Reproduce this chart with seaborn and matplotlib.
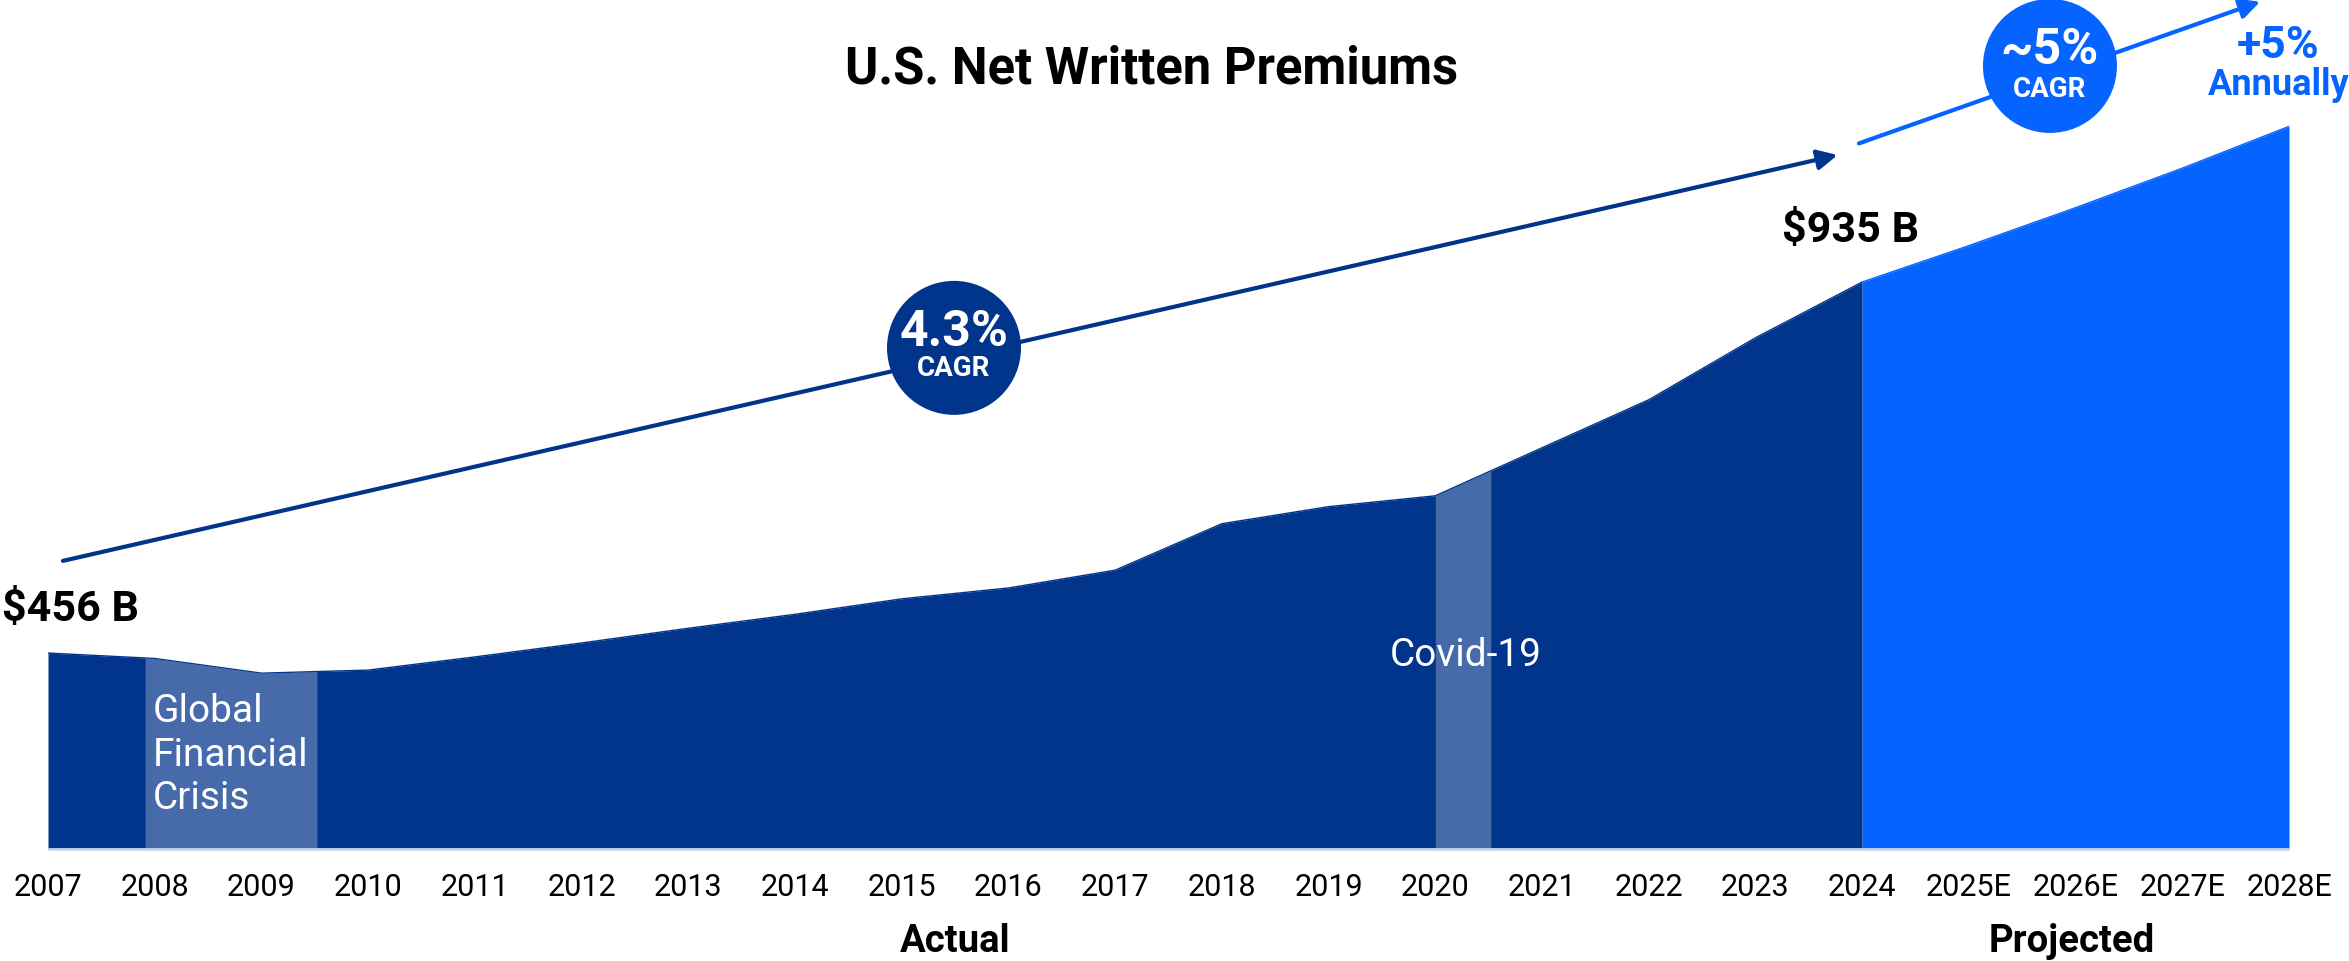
import numpy as np
import pandas as pd
import matplotlib
matplotlib.use("Agg")
import matplotlib.pyplot as plt
import seaborn as sns

# ---- data -------------------------------------------------------------
years = ["2007", "2008", "2009", "2010", "2011", "2012", "2013", "2014",
         "2015", "2016", "2017", "2018", "2019", "2020", "2021", "2022",
         "2023", "2024", "2025E", "2026E", "2027E", "2028E"]
premiums_bn = [456, 449, 430, 434, 451, 469, 488, 506, 526, 540, 563,
               623, 645, 659, 721, 783, 863, 935, 982, 1031, 1082, 1136]
last_actual = "2024"
crisis_span = (0.91, 2.52)      # Global Financial Crisis shading (index units)
covid_span = (13.0, 13.52)      # Covid-19 shading (index units)
cagr_actual = "4.3%"
cagr_projected = "~5%"

NAVY = "#00358B"
SHADE = "#476BAA"
BRIGHT = "#0563FF"
FONT = ["Roboto", "DejaVu Sans"]

df = pd.DataFrame({"year": years, "value": premiums_bn})
df["idx"] = np.arange(len(df))
split = df.index[df["year"] == last_actual][0]

# ---- figure -----------------------------------------------------------
sns.set_theme(style="white")
plt.rcParams["font.family"] = FONT

W, H, DPI = 2349, 961, 100
K = 1.2911                      # value units per pixel
fig = plt.figure(figsize=(W / DPI, H / DPI), dpi=DPI)
y0 = 203
y1 = 203 + 849 * K
ax = fig.add_axes([48 / W, 112 / H, 2241 / W, 849 / H])
ax.set_xlim(0, len(df) - 1)
ax.set_ylim(y0, y1)
ax.axis("off")


def band_fill(lo, hi, color, z):
    xs = np.linspace(lo, hi, 200)
    ys = np.interp(xs, df["idx"], df["value"])
    ax.fill_between(xs, y0, ys, color=color, lw=0, zorder=z)


# actual and projected areas
act = df.iloc[: split + 1]
proj = df.iloc[split:]
ax.fill_between(act["idx"], y0, act["value"], color=NAVY, lw=0, zorder=2)
ax.fill_between(proj["idx"], y0, proj["value"], color=BRIGHT, lw=0, zorder=2)
sns.lineplot(data=act, x="idx", y="value", ax=ax, color=NAVY, lw=1, zorder=3)
sns.lineplot(data=proj, x="idx", y="value", ax=ax, color=BRIGHT, lw=1, zorder=3)

# event shading
band_fill(*crisis_span, SHADE, 4)
band_fill(*covid_span, SHADE, 4)

# baseline
ax.plot([0, len(df) - 1], [y0, y0], color="#C9D5EA", lw=2, zorder=5,
        solid_capstyle="butt", clip_on=False)

# x labels
for i, lab in zip(df["idx"], df["year"]):
    ax.text(i, y0 - 39 * K, lab, ha="center", va="center",
            fontsize=22, color="black", zorder=6)
ax.text(split / 2, y0 - 92 * K, "Actual", ha="center", va="center",
        fontsize=27.5, fontweight="bold", color="black")
ax.text((split + len(df) - 1) / 2 - 0.04, y0 - 92 * K, "Projected",
        ha="center", va="center", fontsize=27.5, fontweight="bold",
        color="black")

# event labels
ax.text(crisis_span[0] + 0.07, y0 + 94 * K, "Global\nFinancial\nCrisis",
        ha="left", va="center", fontsize=28, color="white",
        linespacing=1.22, zorder=6)
ax.text(covid_span[0] + 0.29, y0 + 194 * K, "Covid-19", ha="center",
        va="center", fontsize=28, color="white", zorder=6)

# value callouts
ax.text(-0.43, df["value"].iloc[0] + 44 * K,
        f"${df['value'].iloc[0]} B", ha="left", va="center", fontsize=31,
        fontweight="bold", color="black")
ax.text(split - 0.75, df["value"].iloc[split] + 52 * K,
        f"${df['value'].iloc[split]} B", ha="left", va="center", fontsize=31,
        fontweight="bold", color="black")

# growth arrows
ax.annotate("", xy=(16.77, 1099), xytext=(0.14, 575),
            arrowprops=dict(arrowstyle="-|>", color=NAVY, lw=3,
                            mutation_scale=30, shrinkA=0, shrinkB=0),
            zorder=6)
ax.annotate("", xy=(20.73, 1297), xytext=(16.97, 1114),
            arrowprops=dict(arrowstyle="-|>", color=BRIGHT, lw=3,
                            mutation_scale=30, shrinkA=0, shrinkB=0),
            zorder=6, annotation_clip=False)

# CAGR badges
d_pt = 134 * 72 / DPI
ax.scatter([8.49], [850], s=d_pt ** 2, color=NAVY, edgecolor="none",
           zorder=7, clip_on=False)
ax.text(8.49, 850 + 15 * K, cagr_actual, ha="center", va="center",
        fontsize=36, fontweight="bold", color="white", zorder=8)
ax.text(8.49, 850 - 21 * K, "CAGR", ha="center", va="center",
        fontsize=20, fontweight="bold", color="white", zorder=8)

ax.scatter([18.76], [1214], s=d_pt ** 2, color=BRIGHT, edgecolor="none",
           zorder=7, clip_on=False)
ax.text(18.76, 1214 + 15 * K, cagr_projected, ha="center", va="center",
        fontsize=36, fontweight="bold", color="white", zorder=8)
ax.text(18.76, 1214 - 24 * K, "CAGR", ha="center", va="center",
        fontsize=20, fontweight="bold", color="white", zorder=8)

# annual growth note
ax.text(20.9, 1299 - 46 * K, "+5%", ha="center", va="center",
        fontsize=32, fontweight="bold", color=BRIGHT)
ax.text(20.9, 1299 - 85 * K, "Annually", ha="center", va="center",
        fontsize=26, fontweight="bold", color=BRIGHT)

# title
fig.text(1152 / W, 1 - 69 / H, "U.S. Net Written Premiums", ha="center",
         va="center", fontsize=36.5, fontweight="bold", color="black")

fig.savefig("out.png", dpi=DPI, facecolor="white")
